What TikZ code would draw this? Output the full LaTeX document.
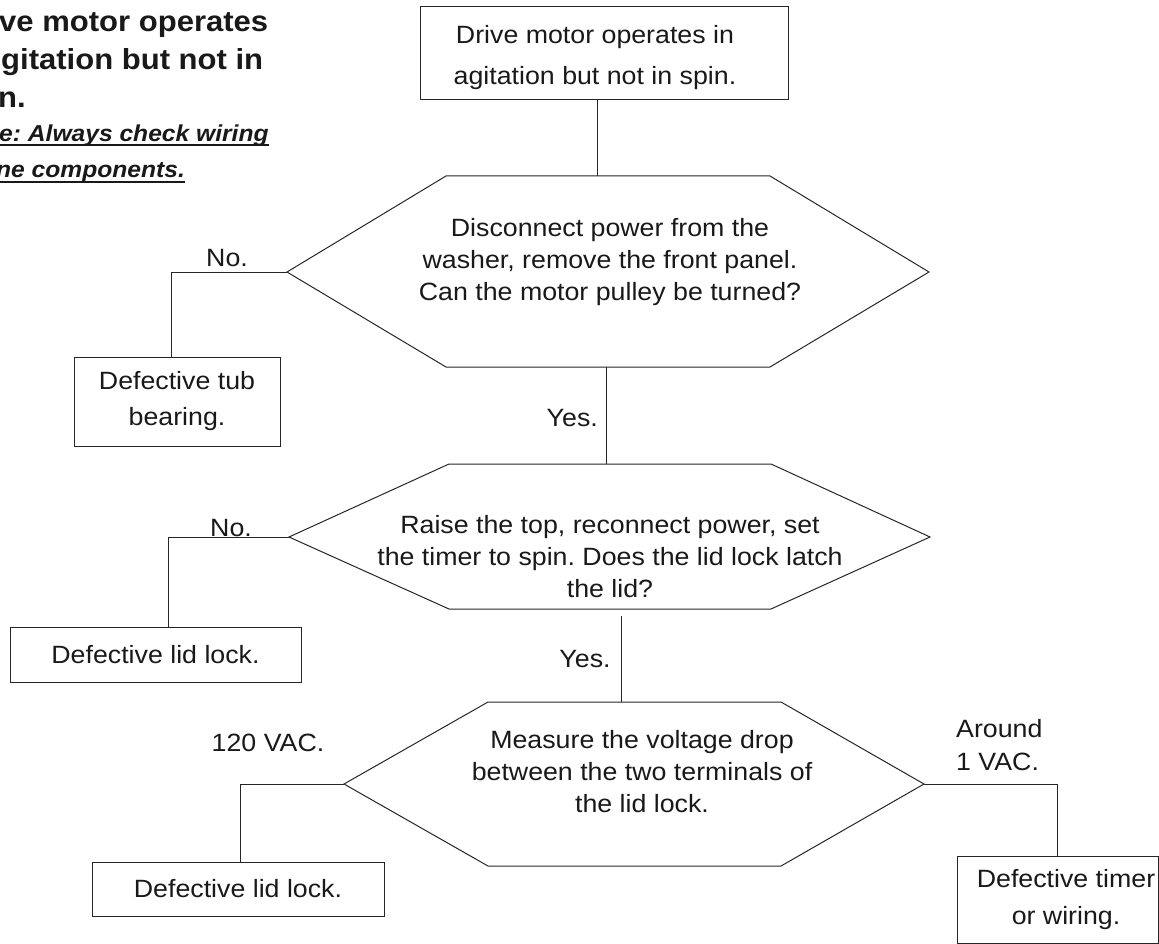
\documentclass[tikz,border=0pt]{standalone}
\usepackage{fontspec}
\setmainfont[FakeStretch=1.07]{Liberation Sans}
\usetikzlibrary{calc}
\frenchspacing

\begin{document}
\begin{tikzpicture}[x=1pt, y=-1pt,
  every node/.style={text=black!90, inner sep=0pt},
  box/.style={draw=black!85, line width=1pt, align=center, font=\fontsize{25}{36}\selectfont},
  boxtext/.style={align=center, font=\fontsize{25}{37}\selectfont},
  qtext/.style={align=center, font=\fontsize{25}{32}\selectfont},
  lbl/.style={font=\fontsize{25}{33}\selectfont},
  headline/.style={anchor=base west, font=\bfseries\fontsize{29}{37}\selectfont},
  noteline/.style={anchor=base west, font=\bfseries\itshape\fontsize{23}{37}\selectfont},
  link/.style={draw=black!85, line width=1pt},
  hexa/.style={draw=black!85, line width=1pt, line join=miter}]

  \useasboundingbox (0,0) rectangle (1159,944);

  % Heading, cut off at the left edge
  \node[headline] (t1) at (-1,32) {ve motor operates};
  \node[headline] (t2) at (1,70) {gitation but not in};
  \node[headline] (t3) at (-2,108) {n.};
  \node[noteline] (n1) at (-1,142) {e: Always check wiring};
  \node[noteline] (n2) at (-4,178) {ne components.};
  \draw[black!90, line width=1.6pt] ([yshift=-3pt]n1.base west) -- ([yshift=-3pt]n1.base east);
  \draw[black!90, line width=1.6pt] ([yshift=-4pt]n2.base west) -- ([yshift=-4pt]n2.base east);

  % Result boxes
  \node[box, minimum width=368pt, minimum height=93pt] (drive) at (604,53.5) {};
  \node[boxtext, font=\fontsize{25}{41}\selectfont] (drivetxt) at (595,58) {Drive motor operates in\\agitation but not in spin.};
  \node[box, minimum width=206pt, minimum height=89pt] (tub) at (177,401.5) {Defective tub\\bearing.};
  \node[box, minimum width=291pt, minimum height=55pt] (lid1) at (155.5,654.5) {Defective lid lock.};
  \node[box, minimum width=292pt, minimum height=54pt] (lid2) at (238,889) {Defective lid lock.};
  \node[box, minimum width=201pt, minimum height=87pt] (timer) at (1057.5,899.5) {};
  \node[boxtext] (timertxt) at (1066,900) {Defective timer\\or wiring.};

  % Decision hexagons
  \coordinate (q1n) at (597,176);
  \coordinate (q1w) at (287,272);
  \coordinate (q1s) at (606,367);
  \draw[hexa] (446,176) -- (770,176) -- (929,272) -- (770,367) -- (446,367) -- (q1w) -- cycle;
  \node[qtext] (q1) at (610,262) {Disconnect power from the\\washer, remove the front panel.\\Can the motor pulley be turned?};

  \coordinate (q2n) at (606,464);
  \coordinate (q2w) at (289,537);
  \coordinate (q2s) at (621,616);
  \draw[hexa] (449,464) -- (771,464) -- (930,537) -- (771,609) -- (449,609) -- (q2w) -- cycle;
  \node[qtext] (q2) at (610,557) {Raise the top, reconnect power, set\\the timer to spin. Does the lid lock latch\\the lid?};

  \coordinate (q3n) at (621,702);
  \coordinate (q3w) at (344,784);
  \coordinate (q3e) at (924,784);
  \draw[hexa] (488,702) -- (781,702) -- (q3e) -- (781,866) -- (488,866) -- (q3w) -- cycle;
  \node[qtext] (q3) at (642,772) {Measure the voltage drop\\between the two terminals of\\the lid lock.};

  % Connectors
  \draw[link] (q1n |- drive.south) -- (q1n);
  \draw[link] (q1w) -| ([xshift=-6pt]tub.north);
  \draw[link] (q1s) -- (q2n);
  \draw[link] (q2w) -| ([xshift=12.5pt]lid1.north);
  \draw[link] (q2s) -- (q3n);
  \draw[link] (q3w) -| ([xshift=2pt]lid2.north);
  \draw[link] (q3e) -| (timer.north);

  % Answers
  \node[lbl] (no1) at (227,258) {No.};
  \node[lbl, anchor=east] (yes1) at (598,418) {Yes.};
  \node[lbl] (no2) at (231,528) {No.};
  \node[lbl] (yes2) at (585,659) {Yes.};
  \node[lbl] (v120) at (268,743) {120 VAC.};
  \node[lbl, align=left, anchor=west] (v1) at (956,745) {Around\\1 VAC.};
\end{tikzpicture}
\end{document}
